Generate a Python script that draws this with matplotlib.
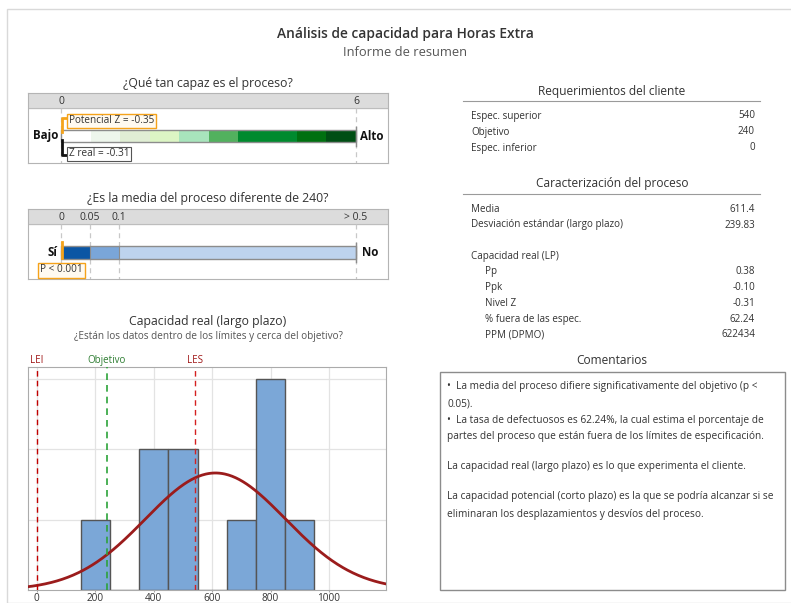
import numpy as np
import matplotlib
matplotlib.use("Agg")
import matplotlib.pyplot as plt
from matplotlib.patches import Rectangle

plt.rcParams['font.family'] = ['Open Sans', 'DejaVu Sans']

# Especificaciones y resumen del proceso
lei, objetivo, les = 0, 240, 540
media = 611.4
desv_lp = 239.83
z_potencial = -0.35
z_real = -0.31

# Histograma de Horas Extra (clases de ancho 100)
bin_left = [150, 250, 350, 450, 550, 650, 750, 850]
counts = [1, 0, 2, 2, 0, 1, 3, 1]
bin_width = 100

# Escala de capacidad (Z de 0 a 6) y sus colores
z_edges = np.linspace(0, 6, 11)
z_colors = ['#ffffff', '#eef6ec', '#e0eed4', '#dcf5c4', '#a8e4bc',
            '#52b15e', '#008a2e', '#008a2e', '#007010', '#004e14']

# Escala del valor p
p_edges = [0, 0.05, 0.1, 0.5]
p_labels = ['0', '0.05', '0.1', '> 0.5']
p_colors = ['#0b56a4', '#7aa6d9', '#bdd3ee']
p_label = 'P < 0.001'
p_value = 0.001

req_rows = [('Espec. superior', '540'), ('Objetivo', '240'), ('Espec. inferior', '0')]
car_rows = [('Media', '611.4'), ('Desviación estándar (largo plazo)', '239.83')]
cap_rows = [('Pp', '0.38'), ('Ppk', '-0.10'), ('Nivel Z', '-0.31'),
            ('% fuera de las espec.', '62.24'), ('PPM (DPMO)', '622434')]

comentarios = [
    (386, '•  La media del proceso difiere significativamente del objetivo (p <'),
    (404, '0.05).'),
    (420, '•  La tasa de defectuosos es 62.24%, la cual estima el porcentaje de'),
    (437, 'partes del proceso que están fuera de los límites de especificación.'),
    (467, 'La capacidad real (largo plazo) es lo que experimenta el cliente.'),
    (497, 'La capacidad potencial (corto plazo) es la que se podría alcanzar si se'),
    (515, 'eliminaran los desplazamientos y desvíos del proceso.'),
]

W, H = 791, 603
TXT = '#333333'
GRID = '#c8c8c8'
FRAME = '#ababab'
ORANGE = '#f5a31a'

fig = plt.figure(figsize=(W / 100, H / 100), dpi=100)


def px_axes(x0, y0, x1, y1):
    return fig.add_axes([x0 / W, 1 - y1 / H, (x1 - x0) / W, (y1 - y0) / H])


def ftext(x, y, s, **kw):
    kw.setdefault('color', TXT)
    kw.setdefault('va', 'center')
    fig.text(x / W, 1 - y / H, s, **kw)


# marco general
fig.patches.append(Rectangle((7 / W, 0), 1, 1 - 9 / H, transform=fig.transFigure,
                             fill=False, edgecolor='#d9d9d9', lw=1))

ftext(405, 34, 'Análisis de capacidad para Horas Extra', ha='center',
      fontsize=9.9, fontweight='semibold')
ftext(405, 52, 'Informe de resumen', ha='center', fontsize=9.3, color='#555555')


def gauge_frame(ax, y0, y1):
    ax.set_ylim(y1, y0)
    ax.axhspan(y0, y0 + 15, color='#dcdcdc', zorder=0)
    ax.axhline(y0 + 15, color='#bdbdbd', lw=0.8)
    ax.set_xticks([])
    ax.set_yticks([])
    ax.minorticks_off()
    for s in ax.spines.values():
        s.set_color('#b4b4b4')


# ---- ¿Qué tan capaz es el proceso? ----
ftext(208, 83, '¿Qué tan capaz es el proceso?', ha='center', fontsize=8.8)
ax1 = px_axes(28, 93, 388, 163)
gauge_frame(ax1, 93, 163)
ax1.set_xlim((28 - 61) / (295 / 6), (388 - 61) / (295 / 6))
for v in (0, 6):
    ax1.plot([v, v], [108, 163], color=GRID, lw=0.9, ls=(0, (4, 3)))
    ax1.text(v, 101, str(v), ha='center', va='center', fontsize=7.5, color=TXT)
ax1.bar(z_edges[:-1], 12, bottom=130, width=np.diff(z_edges), align='edge',
        color=z_colors, edgecolor='none', zorder=2)
ax1.add_patch(Rectangle((0, 130), 6, 12, fill=False, edgecolor='#8c8c8c', lw=1, zorder=3))
ax1.plot([6, 6], [127, 146], color='#8c8c8c', lw=1, zorder=3)
ax1.text(-0.06, 136, 'Bajo', ha='right', va='center', fontsize=8.3, fontweight='bold', color='#111111')
ax1.text(6.08, 136, 'Alto', ha='left', va='center', fontsize=8.3, fontweight='bold', color='#111111')

zp = max(z_potencial, 0) + 0.02
ax1.plot([zp, zp, zp + 0.1], [132, 118, 118], color=ORANGE, lw=2, zorder=4)
ax1.text(zp + 0.14, 120.5, f'Potencial Z = {z_potencial:.2f}', ha='left', va='center',
         fontsize=7.2, color=TXT, zorder=5,
         bbox=dict(boxstyle='square,pad=0.15', fc='#fffaf0', ec=ORANGE, lw=1))
zr = max(z_real, 0) + 0.02
ax1.plot([zr, zr, zr + 0.1], [140, 155, 155], color='#111111', lw=2, zorder=4)
ax1.text(zr + 0.14, 154, f'Z real = {z_real:.2f}', ha='left', va='center',
         fontsize=7.2, color=TXT, zorder=5,
         bbox=dict(boxstyle='square,pad=0.15', fc='white', ec='#555555', lw=0.8))

# ---- ¿Es la media del proceso diferente de 240? ----
p_pos = [0, 29, 58, 295]


def p_fwd(v):
    v = np.asarray(v, float)
    return np.where(v < 0, v * 580, np.where(v > 0.5, 295 + (v - 0.5) * 592.5,
                                             np.interp(v, p_edges, p_pos)))


def p_inv(u):
    u = np.asarray(u, float)
    return np.where(u < 0, u / 580, np.where(u > 295, 0.5 + (u - 295) / 592.5,
                                             np.interp(u, p_pos, p_edges)))


ftext(208, 199, f'¿Es la media del proceso diferente de {objetivo}?', ha='center', fontsize=8.8)
ax2 = px_axes(28, 209, 388, 279)
ax2.set_xscale('function', functions=(p_fwd, p_inv))
gauge_frame(ax2, 209, 279)
ax2.set_xlim(-33 / 580, 0.5 + 32 / 592.5)
for v, lab in zip(p_edges, p_labels):
    ax2.plot([v, v], [224, 279], color=GRID, lw=0.9, ls=(0, (4, 3)))
    ax2.text(v, 217, lab, ha='center', va='center', fontsize=7.5, color=TXT)
ax2.bar(p_edges[:-1], 13, bottom=246, width=np.diff(p_edges), align='edge',
        color=p_colors, edgecolor='none', zorder=2)
for v in p_edges[1:-1]:
    ax2.plot([v, v], [246, 259], color='#8c8c8c', lw=0.8, zorder=3)
ax2.add_patch(Rectangle((0, 246), 0.5, 13, fill=False, edgecolor='#8c8c8c', lw=1, zorder=3))
ax2.plot([0.5, 0.5], [243, 262], color='#8c8c8c', lw=1, zorder=3)
ax2.text(-0.006, 253, 'Sí', ha='right', va='center', fontsize=8.3, fontweight='bold', color='#111111')
ax2.text(0.51, 253, 'No', ha='left', va='center', fontsize=8.3, fontweight='bold', color='#111111')
ax2.plot([p_value, p_value], [242, 258], color=ORANGE, lw=2, zorder=4)
ax2.text(p_value, 270, p_label, ha='center', va='center', fontsize=7.2, color=TXT, zorder=5,
         bbox=dict(boxstyle='square,pad=0.2', fc='#fffaf0', ec=ORANGE, lw=1))

# ---- Histograma de capacidad real ----
ftext(208, 321, 'Capacidad real (largo plazo)', ha='center', fontsize=8.8)
ftext(208, 337, '¿Están los datos dentro de los límites y cerca del objetivo?',
      ha='center', fontsize=7.2, color='#555555')
ax3 = px_axes(28, 367, 386, 590)
ax3.bar(bin_left, counts, width=bin_width, align='edge', color='#7ba7d7',
        edgecolor='#555555', lw=1, zorder=2)
xs = np.linspace(-40, 1200, 400)
n = sum(counts)
curve = n * bin_width * np.exp(-0.5 * ((xs - media) / desv_lp) ** 2) / (desv_lp * np.sqrt(2 * np.pi))
ax3.plot(xs, curve, color='#9b1c1c', lw=2, zorder=3)
ax3.axvline(lei, color='#c00000', lw=1, ls=(0, (4, 3)), zorder=4)
ax3.axvline(les, color='#d42020', lw=1, ls=(0, (4, 3)), zorder=4)
ax3.axvline(objetivo, color='#2ca33a', lw=1.2, ls=(0, (4, 3)), zorder=4)
ax3.set_xlim(-30, 1195)
ax3.set_ylim(0, 3.17)
ax3.set_xticks([0, 200, 400, 600, 800, 1000])
ax3.set_yticks([1, 2, 3])
ax3.set_yticklabels([])
ax3.tick_params(axis='y', length=0)
ax3.tick_params(axis='x', length=1.5, color=FRAME, labelsize=7.2, labelcolor=TXT, pad=0.5)
ax3.grid(True, color='#e3e3e3', lw=0.9, zorder=0)
ax3.set_axisbelow(True)
for s in ax3.spines.values():
    s.set_color(FRAME)
for v, lab, c in [(lei, 'LEI', '#a01818'), (objetivo, 'Objetivo', '#2e7d32'), (les, 'LES', '#a01818')]:
    ax3.text(v, 1.005, lab, transform=ax3.get_xaxis_transform(), ha='center', va='bottom',
             fontsize=7, color=c)

# ---- Tablas de la derecha ----
def header(y, s):
    ftext(612, y, s, ha='center', fontsize=8.6)
    fig.add_artist(plt.Line2D([463 / W, 760 / W], [1 - (y + 10) / H] * 2,
                              color='#9a9a9a', lw=0.8))


def row(y, label, value, indent=0):
    ftext(471 + indent, y, label, ha='left', fontsize=7.1)
    if value:
        ftext(755, y, value, ha='right', fontsize=7.1)


header(91, 'Requerimientos del cliente')
for i, (lab, val) in enumerate(req_rows):
    row(116 + 16 * i, lab, val)

header(184, 'Caracterización del proceso')
for i, (lab, val) in enumerate(car_rows):
    row(209 + 16 * i, lab, val)
row(257, 'Capacidad real (LP)', '')
for i, (lab, val) in enumerate(cap_rows):
    row(272 + 15.7 * i, lab, val, indent=14)

# ---- Comentarios ----
ftext(612, 360, 'Comentarios', ha='center', fontsize=8.6)
fig.patches.append(Rectangle((440 / W, 1 - 590 / H), 345 / W, 218 / H,
                             transform=fig.transFigure, fill=False,
                             edgecolor='#8c8c8c', lw=1))
for y, s in comentarios:
    ftext(447, y, s, ha='left', fontsize=7.3)

fig.savefig('out.png', dpi=100)
